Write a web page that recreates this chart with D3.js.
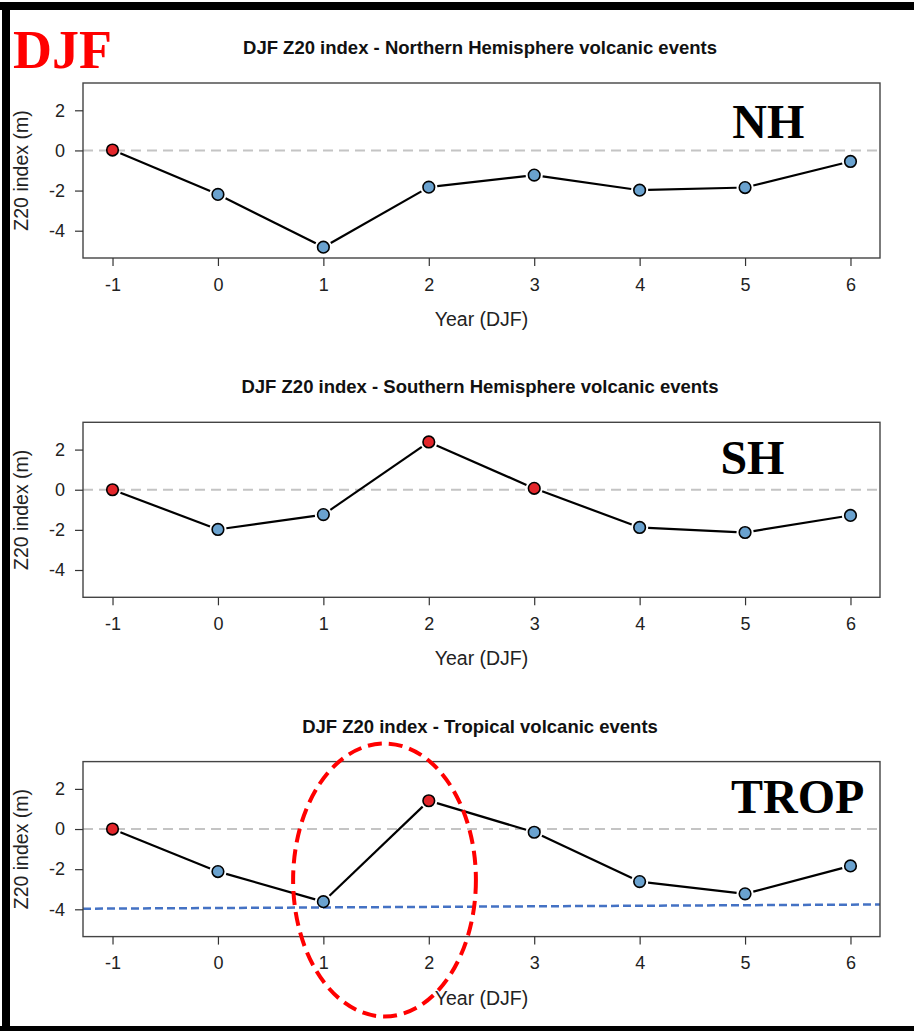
<!DOCTYPE html>
<html>
<head>
<meta charset="utf-8">
<script src="https://cdn.jsdelivr.net/npm/d3@7"></script>
<style>
  body { margin: 0; background: #fff; }
  text { font-family: "Liberation Sans", Arial, sans-serif; }
</style>
</head>
<body>
<div id="chart"></div>
<script>
// Data
const years = [-1, 0, 1, 2, 3, 4, 5, 6];
const yTicks = [-4, -2, 0, 2];

const nhValues   = [0.02, -2.19, -4.82, -1.83, -1.23, -1.98, -1.85, -0.55];
const nhColors   = ["red", "blue", "blue", "blue", "blue", "blue", "blue", "blue"];
const shValues   = [0.0, -1.98, -1.24, 2.38, 0.07, -1.88, -2.13, -1.28];
const shColors   = ["red", "blue", "blue", "red", "red", "blue", "blue", "blue"];
const tropValues = [0.0, -2.12, -3.62, 1.41, -0.16, -2.62, -3.23, -1.84];
const tropColors = ["red", "blue", "blue", "red", "blue", "blue", "blue", "blue"];

const titles = [
  "DJF Z20 index - Northern Hemisphere volcanic events",
  "DJF Z20 index - Southern Hemisphere volcanic events",
  "DJF Z20 index - Tropical volcanic events"
];
const panelLabels = ["NH", "SH", "TROP"];

// blue dashed trend line in the tropical panel (data units)
const trendX = [-1.28, 6.28];
const trendY = [-3.97, -3.76];

// Layout
const width = 914, height = 1031;
const margin = {top: 83, left: 83, right: 34};
const plotH = 175;
const panelStep = 339.3;
const fill = {red: "#e3262b", blue: "#6aa2cf"};

const svg = d3.select("#chart").append("svg")
    .attr("width", width)
    .attr("height", height);

svg.append("rect").attr("width", width).attr("height", height).attr("fill", "#fff");

// frame (top, left, bottom bars)
svg.append("rect").attr("x", 0).attr("y", 2).attr("width", width).attr("height", 8).attr("fill", "#000");
svg.append("rect").attr("x", 2).attr("y", 2).attr("width", 8).attr("height", height - 2).attr("fill", "#000");
svg.append("rect").attr("x", 0).attr("y", height - 5).attr("width", width).attr("height", 5).attr("fill", "#000");

svg.append("text")
    .attr("x", 13).attr("y", 68)
    .style("font-family", "'Liberation Serif', 'Times New Roman', serif")
    .style("font-weight", "bold")
    .style("font-size", "54px")
    .attr("fill", "#ff0000")
    .text("DJF");

const xScale = d3.scaleLinear()
    .domain([-1.28, 6.28])
    .range([margin.left, width - margin.right]);

const panels = [
  {values: nhValues, colors: nhColors, label: {x: 5.22, y: 0.6}},
  {values: shValues, colors: shColors, label: {x: 5.07, y: 0.8}},
  {values: tropValues, colors: tropColors, label: {x: 5.5, y: 0.8}, trend: true, ellipse: true}
];

panels.forEach((p, i) => {
  const g = svg.append("g").attr("transform", `translate(0, ${i * panelStep})`);
  const yScale = d3.scaleLinear()
      .domain([-5.36, 3.36])
      .range([margin.top + plotH, margin.top]);

  // title
  g.append("text")
      .attr("x", 480).attr("y", 54)
      .attr("text-anchor", "middle")
      .style("font-weight", "bold")
      .style("font-size", "18.5px")
      .attr("fill", "#111")
      .text(titles[i]);

  // zero line
  g.append("line")
      .attr("x1", xScale.range()[0]).attr("x2", xScale.range()[1])
      .attr("y1", yScale(0)).attr("y2", yScale(0))
      .attr("stroke", "#c4c4c4").attr("stroke-width", 2)
      .attr("stroke-dasharray", "10,6");

  if (p.trend) {
    g.append("line")
        .attr("x1", xScale(trendX[0])).attr("x2", xScale(trendX[1]))
        .attr("y1", yScale(trendY[0])).attr("y2", yScale(trendY[1]))
        .attr("stroke", "#4472c4").attr("stroke-width", 2.5)
        .attr("stroke-dasharray", "8,4");
  }

  // panel label
  g.append("text")
      .attr("x", xScale(p.label.x)).attr("y", yScale(p.label.y))
      .attr("text-anchor", "middle")
      .style("font-family", "'Liberation Serif', 'Times New Roman', serif")
      .style("font-weight", "bold")
      .style("font-size", "48px")
      .attr("fill", "#000")
      .text(panelLabels[i]);

  // line segments, stopped short of the points (R type = "b")
  const pts = years.map((yr, k) => ({x: xScale(yr), y: yScale(p.values[k]), c: p.colors[k]}));
  const gap = 8.5;
  for (let k = 0; k < pts.length - 1; k++) {
    const a = pts[k], b = pts[k + 1];
    const dx = b.x - a.x, dy = b.y - a.y, len = Math.hypot(dx, dy);
    const ux = dx / len, uy = dy / len;
    g.append("line")
        .attr("x1", a.x + ux * gap).attr("y1", a.y + uy * gap)
        .attr("x2", b.x - ux * gap).attr("y2", b.y - uy * gap)
        .attr("stroke", "#000").attr("stroke-width", 2.2);
  }

  g.selectAll("circle.pt")
      .data(pts)
      .join("circle")
      .attr("class", "pt")
      .attr("cx", d => d.x).attr("cy", d => d.y)
      .attr("r", 5.8)
      .attr("fill", d => fill[d.c])
      .attr("stroke", "#000").attr("stroke-width", 1.6);

  // box
  g.append("rect")
      .attr("x", xScale.range()[0]).attr("y", margin.top)
      .attr("width", xScale.range()[1] - xScale.range()[0]).attr("height", plotH)
      .attr("fill", "none").attr("stroke", "#444").attr("stroke-width", 1.4);

  // axes
  const fmt = d => d < 0 ? "-" + Math.abs(d) : String(d);
  const xAxisGroup = g.append("g")
      .attr("transform", `translate(0, ${margin.top + plotH})`)
      .call(d3.axisBottom(xScale).tickValues(years).tickSize(8).tickPadding(12).tickFormat(fmt));
  const yAxisGroup = g.append("g")
      .attr("transform", `translate(${margin.left}, 0)`)
      .call(d3.axisLeft(yScale).tickValues(yTicks).tickSize(8).tickPadding(10).tickFormat(fmt));

  [xAxisGroup, yAxisGroup].forEach(ax => {
    ax.select(".domain").remove();
    ax.selectAll(".tick line").attr("stroke", "#333").attr("stroke-width", 1.2);
    ax.selectAll(".tick text")
        .style("font-family", "'Liberation Sans', Arial, sans-serif")
        .style("font-size", "18px")
        .attr("fill", "#222");
  });

  // axis titles
  g.append("text")
      .attr("x", (xScale.range()[0] + xScale.range()[1]) / 2).attr("y", 326)
      .attr("text-anchor", "middle")
      .style("font-size", "19.5px")
      .attr("fill", "#222")
      .text("Year (DJF)");

  g.append("text")
      .attr("transform", `translate(28, ${margin.top + plotH / 2}) rotate(-90)`)
      .attr("text-anchor", "middle")
      .style("font-size", "19.5px")
      .attr("fill", "#222")
      .text("Z20 index (m)");

  if (p.ellipse) {
    g.append("ellipse")
        .attr("cx", xScale(1.58)).attr("cy", yScale(-2.54))
        .attr("rx", xScale(1.58 + 0.867) - xScale(1.58))
        .attr("ry", yScale(-2.54) - yScale(-2.54 + 6.8))
        .attr("fill", "none")
        .attr("stroke", "#ff0000").attr("stroke-width", 4)
        .attr("stroke-dasharray", "14,7");
  }
});
</script>
</body>
</html>
